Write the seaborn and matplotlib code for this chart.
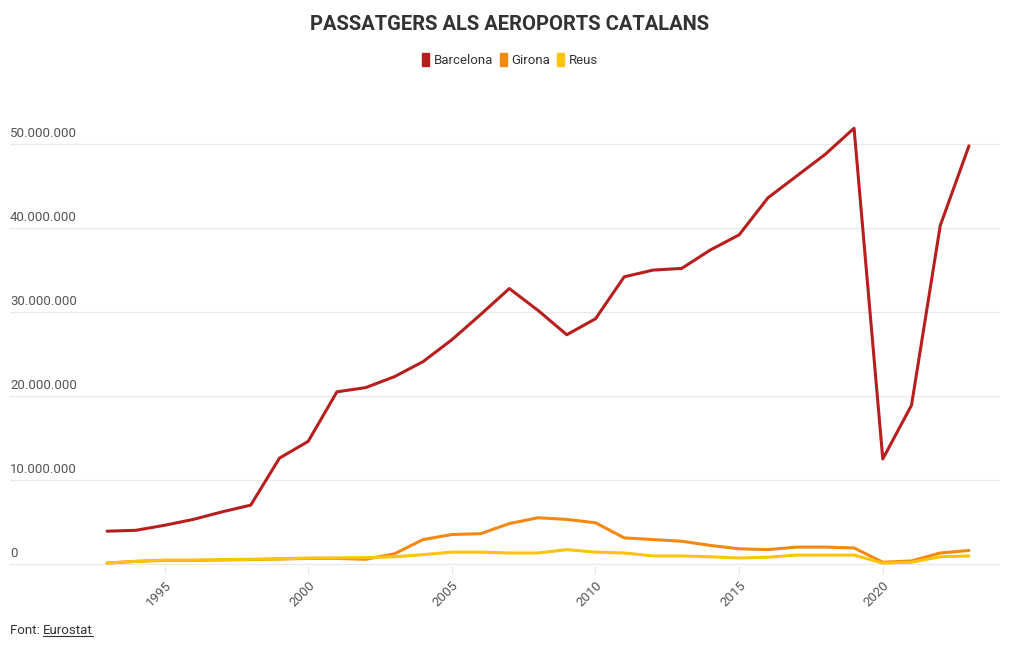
import numpy as np
import pandas as pd
import seaborn as sns
import matplotlib.pyplot as plt
from matplotlib.patches import Patch
from matplotlib.lines import Line2D
import matplotlib.transforms as mtransforms

# passatgers per any (milions), llegits del grafic original
years = list(range(1993, 2024))
barcelona = [3.9, 4.0, 4.6, 5.3, 6.2, 7.0, 12.6, 14.6, 20.5, 21.0, 22.3, 24.1, 26.7, 29.7, 32.8, 30.2,
             27.3, 29.2, 34.2, 35.0, 35.2, 37.4, 39.2, 43.6, 46.2, 48.8, 51.9, 12.5, 18.9, 40.3, 49.8]
girona = [0.1, 0.3, 0.42, 0.42, 0.48, 0.52, 0.58, 0.65, 0.65, 0.55, 1.2, 2.9, 3.5, 3.6, 4.8, 5.5,
          5.3, 4.9, 3.1, 2.9, 2.7, 2.2, 1.8, 1.7, 2.0, 2.0, 1.9, 0.2, 0.35, 1.3, 1.6]
reus = [0.1, 0.3, 0.45, 0.45, 0.5, 0.55, 0.6, 0.7, 0.72, 0.75, 0.85, 1.1, 1.4, 1.4, 1.3, 1.3,
        1.7, 1.4, 1.3, 0.95, 0.95, 0.85, 0.7, 0.8, 1.05, 1.05, 1.05, 0.1, 0.2, 0.85, 0.95]

airports = ['Barcelona', 'Girona', 'Reus']
colors = ['#b71f1f', '#f5880f', '#fac30c']
yticks = [0, 10, 20, 30, 40, 50]
xticks = [1995, 2000, 2005, 2010, 2015, 2020]

df = pd.DataFrame({
    'any': years * 3,
    'passatgers': np.array(barcelona + girona + reus) * 1e6,
    'aeroport': ['Barcelona'] * len(years) + ['Girona'] * len(years) + ['Reus'] * len(years),
})

sns.set_style('white')
plt.rcParams['font.family'] = ['Roboto', 'DejaVu Sans']

fig = plt.figure(figsize=(10.2, 6.5), dpi=100)
ax = fig.add_axes([10 / 1020, 84 / 650, 990 / 1020, 447 / 650])

sns.lineplot(data=df, x='any', y='passatgers', hue='aeroport', hue_order=airports,
             palette=colors, linewidth=2.2, ax=ax, legend=False)

ax.set_xlim(1989.62, 2024.08)
ax.set_ylim(-0.25e6, 53e6)
for s in ax.spines.values():
    s.set_visible(False)
ax.set_xlabel('')
ax.set_ylabel('')

for v in yticks:
    ax.axhline(v * 1e6, color='#e8e8e8', lw=0.9, zorder=0)
ax.set_yticks([])
trans = mtransforms.blended_transform_factory(ax.transAxes, ax.transData)
for v in yticks:
    lab = '0' if v == 0 else f'{v}.000.000'
    ax.text(0.0, v * 1e6 + 0.45e6, lab, transform=trans, ha='left', va='bottom',
            fontsize=9.5, color='#555555')

ax.set_xticks(xticks)
ax.set_xticklabels([str(x) for x in xticks], rotation=45, ha='right',
                   rotation_mode='anchor', fontsize=9.5, color='#555555')
ax.tick_params(axis='x', length=5, color='#e4e4e4', pad=4, bottom=True)

fig.text(0.5, 1 - 24 / 650, 'PASSATGERS ALS AEROPORTS CATALANS', ha='center', va='center',
         fontsize=14.5, fontweight='bold', color='#333333')

handles = [Patch(facecolor=c, edgecolor=c, label=a) for a, c in zip(airports, colors)]
fig.legend(handles=handles, loc='center', bbox_to_anchor=(0.5, 1 - 60 / 650), ncol=3,
           frameon=False, fontsize=9.5, handlelength=0.55, handleheight=1.2,
           handletextpad=0.35, columnspacing=0.5, labelcolor='#333333')

fig.text(10 / 1020, 1 - 631 / 650, 'Font: ', ha='left', va='center', fontsize=9.5, color='#333333')
fig.canvas.draw()
r = fig.canvas.get_renderer()
t1 = fig.texts[-1]
bb = t1.get_window_extent(renderer=r)
x2 = bb.x1 / fig.bbox.width
t2 = fig.text(x2, 1 - 631 / 650, 'Eurostat', ha='left', va='center', fontsize=9.5, color='#333333')
bb2 = t2.get_window_extent(renderer=r)
fig.add_artist(Line2D([bb2.x0 / fig.bbox.width, bb2.x1 / fig.bbox.width],
                      [(bb2.y0 + 2) / fig.bbox.height] * 2, color='#333333', lw=0.8))

fig.savefig('out.png', dpi=100)
